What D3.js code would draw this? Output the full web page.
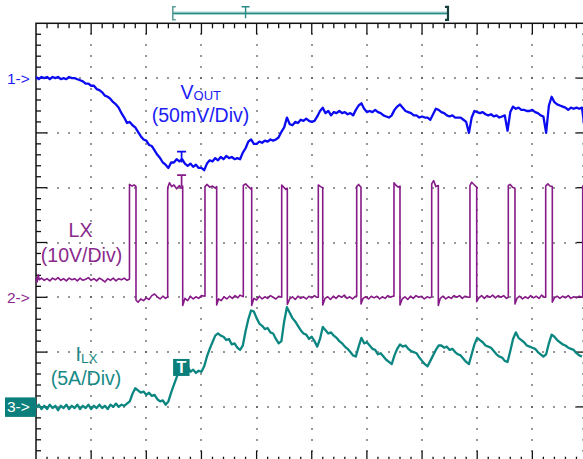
<!DOCTYPE html>
<html><head><meta charset="utf-8">
<script src="https://cdn.jsdelivr.net/npm/d3@7"></script>
<style>
html,body{margin:0;padding:0;background:#fff;}
svg{display:block;font-family:"Liberation Sans",Arial,sans-serif;}
</style></head><body>
<svg id="scope" width="583" height="459"></svg>
<script>
// ---- Screen geometry in divisions ----
const DIV_X = 10, DIV_Y = 8, SUBDIV = 5;

// ---- Channel setup: volts (or amps) per division and reference offset in divisions ----
const channelLabels = ["1->", "2->", "3->"];
const channelScale  = [50, 10, 5];     // VOUT mV/div, LX V/div, ILX A/div
const channelOffset = [3, -1, -3];     // reference level, divisions from screen centre

// Record sample spacing for VOUT and ILX, in divisions
const SAMPLE_DT = 0.05;

// VOUT (mV, AC relative to reference)
const voutMv = [
  1,-1,1,0,1,-1,1,0,1,-1, 0,-1,1,0,0,-1,-2,-3,-5,-5,
  -7,-7,-10,-11,-13,-16,-17,-19,-22,-24, -27,-32,-36,-41,-40,-43,-45,-49,-53,-56,
  -57,-61,-62,-66,-70,-73,-77,-79,-82,-77, -77,-74,-76,-74,-78,-80,-78,-81,-79,-82,
  -82,-84,-78,-75,-76,-73,-75,-72,-74,-71, -73,-72,-74,-73,-74,-68,-64,-58,-56,-60,
  -60,-58,-59,-57,-58,-56,-57,-56,-54,-49, -45,-36,-42,-43,-40,-41,-38,-39,-37,-39,
  -40,-39,-35,-30,-27,-32,-30,-34,-31,-32, -30,-32,-31,-33,-32,-34,-29,-25,-23,-28,
  -31,-30,-31,-29,-31,-32,-34,-35,-36,-34, -29,-26,-24,-27,-30,-31,-32,-34,-34,-36,
  -35,-36,-36,-38,-33,-28,-29,-31,-32,-34, -35,-34,-36,-36,-36,-38,-40,-50,-36,-30,
  -31,-32,-31,-33,-34,-33,-35,-34,-36,-35, -34,-48,-31,-26,-28,-27,-29,-29,-30,-30,
  -29,-31,-32,-34,-35,-50,-25,-17,-22,-24, -25,-26,-27,-29,-27,-28,-27,-28,-27,-47
];

// Inductor current ILX (A)
const ilxAmp = [
  -0.1,0.2,-0.2,0.1,-0.2,0.2,-0.1,0.1,-0.3,0.1, -0.1,0.2,-0.2,0.1,-0.1,0.2,-0.2,0.1,-0.1,0.2,
  -0.2,0.1,-0.1,0.2,-0.1,0.1,-0.2,0.2,0.0,0.3, 0.0,0.2,0.1,0.3,0.5,1.2,1.7,1.5,1.3,1.4,
  1.1,1.3,1.0,1.1,0.7,0.5,0.6,0.2,0.5,1.3, 2.0,2.7,3.5,3.8,3.6,3.7,3.2,3.4,3.1,3.3,
  3.2,3.7,4.6,5.3,5.9,6.5,6.7,6.5,6.4,6.1, 6.2,5.7,5.8,5.4,5.2,5.6,6.9,8.0,8.8,8.7,
  8.1,7.6,7.4,7.1,7.2,6.8,6.7,6.2,5.8,6.0, 7.8,9.1,8.6,8.1,7.8,7.4,7.0,6.7,6.6,6.2,
  6.4,6.0,5.5,6.2,7.3,7.0,6.7,6.8,6.5,6.3, 6.0,5.8,5.5,5.3,5.0,4.7,4.6,5.5,6.3,5.8,
  5.9,5.6,5.3,5.2,4.8,4.9,4.6,4.3,4.1,3.9, 4.7,5.3,5.7,5.5,5.6,5.3,5.1,5.0,4.9,4.5,
  4.2,3.9,3.7,4.2,4.7,5.2,5.6,5.6,5.4,5.5, 5.2,5.3,5.0,4.8,4.7,4.4,4.1,3.9,4.8,5.7,
  6.3,6.1,5.9,5.6,5.5,5.4,5.1,4.8,4.6,4.5, 4.2,4.1,5.1,6.2,6.8,6.3,6.1,5.9,5.6,5.5,
  5.4,5.3,5.0,4.8,4.6,4.8,5.8,6.6,6.4,6.1, 5.9,5.7,5.6,5.4,5.3,5.2,4.9,4.7,4.6
];

// Switch node LX: [time (div), volts]
const lxVolts = [
  [0.00,3.5],[0.02,2.8],[0.04,4.1],[0.06,3.2],[0.10,3.5],[0.15,3.1],[0.20,3.4],[0.25,3.0],[0.30,3.5],[0.35,3.2],
  [0.40,3.6],[0.45,3.1],[0.50,3.4],[0.55,3.0],[0.60,3.5],[0.65,3.2],[0.70,3.4],[0.75,3.0],[0.80,3.5],[0.85,3.1],
  [0.90,3.3],[0.95,3.6],[1.00,3.1],[1.05,3.4],[1.10,3.0],[1.15,3.5],[1.20,3.2],[1.25,2.8],[1.30,3.4],[1.35,3.1],
  [1.40,3.5],[1.45,3.0],[1.50,3.4],[1.55,3.2],[1.60,3.5],[1.65,3.1],[1.69,3.3],
  [1.695,3.3],[1.695,20.6],[1.74,20.3],[1.78,20.5],[1.813,20.2],[1.813,-0.5],
  [1.85,-0.9],[1.90,-0.3],[1.95,-0.6],[2.00,-0.1],[2.05,-0.4],[2.10,0.3],[2.15,0.6],[2.20,0.1],[2.25,-0.3],[2.30,0.2],[2.35,-0.2],
  [2.388,0.1],[2.388,20.0],[2.42,20.9],[2.46,20.2],[2.50,20.5],[2.55,19.8],[2.60,20.4],[2.63,19.9],[2.66,20.3],[2.66,-1.5],
  [2.70,-0.2],[2.75,-0.6],[2.80,0.2],[2.85,-0.3],[2.90,0.1],[2.95,-0.2],[3.00,0.3],
  [3.064,0.2],[3.064,20.2],[3.10,20.6],[3.15,20.1],[3.20,20.3],[3.25,19.9],[3.276,20.2],[3.276,-1.4],
  [3.31,-0.3],[3.36,-0.6],[3.41,0.1],[3.46,-0.3],[3.51,0.2],[3.56,-0.2],[3.61,0.3],[3.66,-0.1],[3.70,0.4],
  [3.759,0.1],[3.759,20.4],[3.80,20.7],[3.85,20.2],[3.89,19.8],[3.911,20.0],[3.911,-1.5],
  [3.95,-0.2],[4.00,-0.5],[4.05,0.2],[4.10,-0.3],[4.15,0.1],[4.20,-0.2],[4.25,0.3],[4.30,0.0],[4.35,-0.3],[4.40,0.2],
  [4.455,0.0],[4.455,20.5],[4.49,20.1],[4.53,19.7],[4.557,19.9],[4.557,-1.3],
  [4.60,-0.3],[4.65,0.1],[4.70,-0.4],[4.75,0.2],[4.80,-0.2],[4.85,0.1],[4.90,-0.3],[4.95,0.2],[5.00,-0.1],[5.05,0.3],[5.09,0.0],
  [5.119,0.0],[5.119,20.5],[5.16,20.2],[5.199,20.0],[5.199,-1.4],
  [5.24,-0.2],[5.29,0.1],[5.34,-0.4],[5.39,0.2],[5.44,-0.2],[5.49,0.3],[5.54,0.0],[5.59,0.4],[5.64,-0.2],[5.69,0.1],[5.74,-0.3],[5.79,0.2],
  [5.815,0.2],[5.815,20.2],[5.85,20.6],[5.893,20.1],[5.893,-1.2],
  [5.93,-0.2],[5.98,0.1],[6.03,-0.3],[6.08,0.2],[6.13,-0.1],[6.18,0.2],[6.23,-0.3],[6.28,0.1],[6.33,-0.2],[6.38,0.3],[6.43,0.0],[6.47,0.2],
  [6.491,0.2],[6.491,20.9],[6.53,20.4],[6.57,20.1],[6.600,20.3],[6.600,-1.4],
  [6.64,-0.3],[6.69,0.1],[6.74,-0.4],[6.79,0.2],[6.84,-0.2],[6.89,0.3],[6.94,0.0],[6.99,0.2],[7.04,-0.3],[7.09,0.1],[7.14,-0.1],
  [7.175,0.1],[7.175,20.7],[7.21,21.3],[7.25,20.2],[7.295,20.4],[7.295,-1.5],
  [7.33,-0.2],[7.38,0.2],[7.43,-0.3],[7.48,0.1],[7.53,-0.2],[7.58,0.3],[7.63,0.0],[7.68,0.3],[7.73,-0.2],[7.78,0.2],[7.84,0.0],
  [7.869,0.0],[7.869,20.4],[7.90,21.0],[7.95,20.5],[7.991,20.1],[7.991,-0.8],
  [8.03,-0.1],[8.08,0.3],[8.13,-0.2],[8.18,0.3],[8.23,0.0],[8.28,0.4],[8.33,-0.1],[8.38,0.3],[8.43,0.0],[8.48,0.3],[8.53,-0.2],
  [8.564,0.0],[8.564,20.4],[8.60,20.6],[8.64,20.1],[8.685,19.9],[8.685,-1.2],
  [8.72,-0.2],[8.77,0.2],[8.82,-0.3],[8.87,0.1],[8.92,-0.2],[8.97,0.3],[9.02,-0.1],[9.07,0.2],[9.12,-0.2],[9.17,0.4],[9.22,0.0],
  [9.242,0.0],[9.242,20.3],[9.28,20.7],[9.32,20.3],[9.362,20.2],[9.362,-0.9],
  [9.40,-0.1],[9.45,0.2],[9.50,-0.2],[9.55,0.2],[9.60,-0.1],[9.65,0.3],[9.70,-0.2],[9.75,0.1],[9.80,-0.1],[9.85,0.2],[9.90,0.0],
  [9.913,0.0],[9.913,20.3],[10.0,20.4]
];

// Trigger: time (div) and the level each channel's "T" flag sits at
const triggerTime = 2.64;
const triggerMark = [-67, 22.3, 3.6];
// Record window indicator above the screen, in divisions
const recordWindow = [2.48, 7.47];
const recordTrigger = 3.80;

// ---- Colours ----
const chColor = ["#0b0bf2", "#861a88", "#0b8681"];
const chText  = ["#1c1cf5", "#8a2a8c", "#178a86"];

const svg = d3.select("#scope");
const x = d3.scaleLinear().domain([0, DIV_X]).range([36, 587.5]);
const y = d3.scaleLinear().domain([-DIV_Y / 2, DIV_Y / 2]).range([461.7, 23.3]);
const chY = (ch, v) => y(channelOffset[ch] + v / channelScale[ch]);

// ---- Graticule dots ----
const dots = [];
const stepsX = d3.range(1, DIV_X * SUBDIV);
const stepsY = d3.range(1, DIV_Y * SUBDIV);
d3.range(1, DIV_X).forEach(k => stepsY.forEach(j => dots.push([x(k), y(-DIV_Y / 2 + j / SUBDIV)])));
d3.range(-DIV_Y / 2 + 1, DIV_Y / 2).forEach(k => stepsX.forEach(j => dots.push([x(j / SUBDIV), y(k)])));
svg.append("g").selectAll("rect").data(dots).join("rect")
  .attr("x", d => Math.round(d[0]) - 0.75).attr("y", d => Math.round(d[1]) - 0.75)
  .attr("width", 1.5).attr("height", 1.5).attr("fill", "#4a4a4a");

// ---- Frame and edge ticks ----
const frame = svg.append("g").attr("stroke", "#111").attr("fill", "none");
frame.append("rect").attr("x", x(0)).attr("y", y(DIV_Y / 2))
  .attr("width", x(DIV_X) - x(0)).attr("height", y(-DIV_Y / 2) - y(DIV_Y / 2)).attr("stroke-width", 1.5);
const tickLen = j => (j % SUBDIV === 0 ? 11 : 5);
stepsX.forEach(j => {
  const xx = x(j / SUBDIV), L = tickLen(j);
  frame.append("line").attr("x1", xx).attr("x2", xx).attr("y1", y(4)).attr("y2", y(4) + L).attr("stroke-width", 1.3);
  frame.append("line").attr("x1", xx).attr("x2", xx).attr("y1", y(-4)).attr("y2", y(-4) - L).attr("stroke-width", 1.3);
});
stepsY.forEach(j => {
  const yy = y(-DIV_Y / 2 + j / SUBDIV), L = tickLen(j);
  frame.append("line").attr("y1", yy).attr("y2", yy).attr("x1", x(0)).attr("x2", x(0) + L).attr("stroke-width", 1.3);
  frame.append("line").attr("y1", yy).attr("y2", yy).attr("x1", x(DIV_X)).attr("x2", x(DIV_X) - L).attr("stroke-width", 1.3);
});

// ---- Record window bracket above the screen ----
const hb = svg.append("g").attr("fill", "none");
const hy = y(DIV_Y / 2) - 10;
hb.append("line").attr("x1", x(recordWindow[0])).attr("x2", x(recordWindow[1])).attr("y1", hy).attr("y2", hy)
  .attr("stroke", "#a9d6d2").attr("stroke-width", 3.5);
hb.append("line").attr("x1", x(recordWindow[0])).attr("x2", x(recordWindow[1])).attr("y1", hy).attr("y2", hy)
  .attr("stroke", "#2a8a85").attr("stroke-width", 1.3);
hb.append("path").attr("d", `M${x(recordWindow[0]) + 3},${hy - 6.5}h-3v13h3`).attr("stroke", "#5f9d99").attr("stroke-width", 1.6);
hb.append("path").attr("d", `M${x(recordWindow[1]) - 3},${hy - 6.5}h3v13h-3`).attr("stroke", "#173f3d").attr("stroke-width", 2.2);
hb.append("path").attr("d", `M${x(recordTrigger) - 4},${hy - 6.5}h8M${x(recordTrigger)},${hy - 6.5}v11.5`)
  .attr("stroke", "#2a8a85").attr("stroke-width", 1.4);

// ---- Traces ----
const line = d3.line().x(d => x(d[0])).y(d => d[1]);
const voutPts = voutMv.map((v, i) => [i * SAMPLE_DT, chY(0, v)]);
const ilxPts  = ilxAmp.map((v, i) => [i * SAMPLE_DT, chY(2, v)]);
const lxPts   = lxVolts.map(d => [d[0], chY(1, d[1])]);

const traces = svg.append("g").attr("fill", "none").attr("stroke-linejoin", "round");
traces.append("path").attr("d", line(lxPts)).attr("stroke", chColor[1]).attr("stroke-width", 1.6);
traces.append("path").attr("d", line(ilxPts)).attr("stroke", chColor[2]).attr("stroke-width", 2.3);
traces.append("path").attr("d", line(voutPts)).attr("stroke", chColor[0]).attr("stroke-width", 2.3);

// ---- Trigger flags ----
const tx = x(triggerTime);
[0, 1].forEach(ch => {
  const ty = chY(ch, triggerMark[ch]);
  svg.append("path").attr("d", `M${tx - 4.5},${ty}h9M${tx},${ty}v11`)
    .attr("fill", "none").attr("stroke", chColor[ch]).attr("stroke-width", 1.7);
});
const ty3 = chY(2, triggerMark[2]);
svg.append("rect").attr("x", tx - 8.5).attr("y", ty3 - 8.5).attr("width", 16.5).attr("height", 17).attr("fill", "#0b7f7b");
svg.append("text").attr("x", tx - 0.2).attr("y", ty3 + 6).attr("text-anchor", "middle")
  .attr("fill", "#fff").attr("font-size", 16).attr("font-weight", "bold").text("T");

// ---- Channel reference markers ----
[0, 1].forEach(ch => {
  svg.append("text").attr("x", 7).attr("y", chY(ch, 0) + 5.5).attr("fill", chText[ch])
    .attr("font-size", 15.5).text(channelLabels[ch]);
});
const r3 = chY(2, 0);
svg.append("rect").attr("x", 5).attr("y", r3 - 9.5).attr("width", 31).attr("height", 19.5).attr("fill", "#0b7f7b");
svg.append("text").attr("x", 7).attr("y", r3 + 5.5).attr("fill", "#fff").attr("font-size", 15.5).text(channelLabels[2]);

// ---- Channel captions ----
const cap = svg.append("g").attr("font-size", 19.5);
const v = cap.append("text").attr("x", 180.5).attr("y", 98.5).attr("fill", chText[0]);
v.append("tspan").text("V");
v.append("tspan").attr("font-size", 13).attr("dy", 1).text("OUT");
cap.append("text").attr("x", 200.5).attr("y", 121.5).attr("text-anchor", "middle").attr("fill", chText[0]).text("(50mV/Div)");
cap.append("text").attr("x", 80.5).attr("y", 237).attr("text-anchor", "middle").attr("fill", chText[1]).text("LX");
cap.append("text").attr("x", 81.5).attr("y", 261.5).attr("text-anchor", "middle").attr("fill", chText[1]).text("(10V/Div)");
const il = cap.append("text").attr("x", 75.5).attr("y", 360.5).attr("fill", chText[2]);
il.append("tspan").text("I");
il.append("tspan").attr("font-size", 13.5).attr("dy", 2).text("LX");
cap.append("text").attr("x", 86).attr("y", 385).attr("text-anchor", "middle").attr("fill", chText[2]).text("(5A/Div)");
</script>
</body></html>
